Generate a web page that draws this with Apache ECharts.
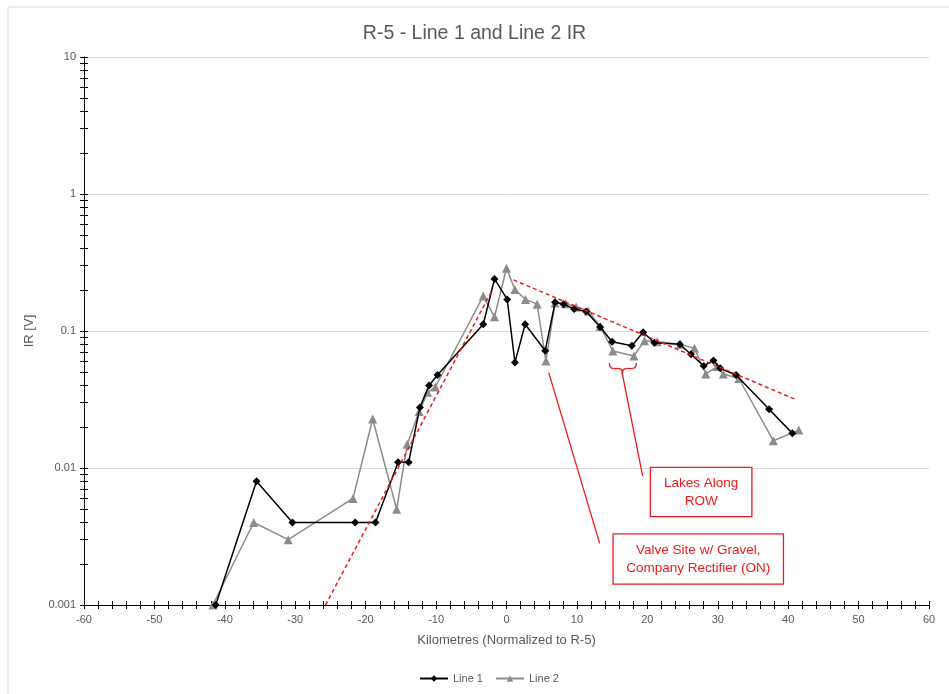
<!DOCTYPE html>
<html>
<head>
<meta charset="utf-8">
<script src="https://cdn.jsdelivr.net/npm/echarts@6/dist/echarts.min.js"></script>
<style>
html,body{margin:0;padding:0;background:#fff;}
#c{width:949px;height:694px;}
</style>
</head>
<body>
<div id="c"></div>
<script>
// ---- data ----
const line1X = [-41.3, -35.5, -30.4, -21.5, -18.6, -15.4, -13.9, -12.3, -11.0, -9.8, -3.3, -1.7, 0.1, 1.2, 2.65, 5.5, 6.9, 8.1, 9.6, 11.3, 13.3, 15.0, 17.8, 19.4, 21.0, 24.6, 26.2, 28.0, 29.4, 30.35, 32.6, 37.3, 40.6];
const line1Y = [0.001, 0.008, 0.004, 0.004, 0.004, 0.011, 0.011, 0.0277, 0.04, 0.0478, 0.112, 0.24, 0.17, 0.059, 0.112, 0.0718, 0.162, 0.157, 0.145, 0.139, 0.107, 0.0836, 0.078, 0.098, 0.082, 0.08, 0.0676, 0.0556, 0.061, 0.0534, 0.0477, 0.0268, 0.0179];
const line2X = [-41.7, -35.9, -31.0, -21.8, -19.0, -15.6, -14.1, -12.4, -11.2, -10.1, -3.3, -1.7, 0.0, 1.2, 2.7, 4.35, 5.6, 6.9, 8.4, 9.9, 11.6, 13.3, 15.1, 18.1, 19.6, 21.4, 24.7, 26.7, 28.3, 29.9, 30.8, 33.0, 37.9, 41.5];
const line2Y = [0.001, 0.004, 0.003, 0.006, 0.0228, 0.005, 0.0149, 0.0258, 0.0357, 0.039, 0.18, 0.127, 0.287, 0.201, 0.17, 0.157, 0.0604, 0.16, 0.158, 0.15, 0.14, 0.108, 0.0715, 0.0657, 0.085, 0.0836, 0.08, 0.0747, 0.0486, 0.055, 0.0486, 0.045, 0.0158, 0.0189];
const trend1X = [-25.7, -2.0];
const trend1Y = [0.001, 0.2];
const trend2X = [1.0, 40.9];
const trend2Y = [0.236, 0.0319];
const xTickLabels = [-60, -50, -40, -30, -20, -10, 0, 10, 20, 30, 40, 50, 60];
const yTickLabels = [0.001, 0.01, 0.1, 1, 10];
const seriesNames = ['Line 1', 'Line 2'];
const titleText = 'R-5 - Line 1 and Line 2 IR';
const xName = 'Kilometres (Normalized to R-5)';
const yName = 'IR [V]';
const note1 = ['Lakes Along', 'ROW'];
const note2 = ['Valve Site w/ Gravel,', 'Company Rectifier (ON)'];

// ---- helpers ----
const zip = (xs, ys) => xs.map((x, i) => [x, ys[i]]);
const yMinor = [];
for (let d = -3; d < 1; d++) for (let m = 1; m <= 9; m++) yMinor.push(+(m * Math.pow(10, d)).toPrecision(3));
yMinor.push(10);
const xMinor = [];
for (let v = xTickLabels[0]; v <= xTickLabels[xTickLabels.length - 1]; v += 2) xMinor.push(v);

const FONT = '"Liberation Sans", Arial, sans-serif';
const GRAY = '#595959';
const RED = '#f01a1a';

const xBase = {
  type: 'value', min: xTickLabels[0], max: xTickLabels[xTickLabels.length - 1], interval: 10,
  position: 'bottom', splitLine: { show: false }
};
const yBase = {
  type: 'log', logBase: 10, min: yTickLabels[0], max: yTickLabels[yTickLabels.length - 1],
  position: 'left', splitLine: { show: false }
};

const option = {
  backgroundColor: '#fff',
  animation: false,
  title: {
    text: titleText, left: 'center', top: 19,
    textStyle: { fontFamily: FONT, fontSize: 19.5, fontWeight: 'normal', color: GRAY }
  },
  legend: {
    data: seriesNames, left: 414, top: 668, itemWidth: 28, itemHeight: 8, itemGap: 12,
    textStyle: { fontFamily: FONT, fontSize: 11, color: GRAY }
  },
  grid: { left: 84, right: 20, top: 57, bottom: 89, containLabel: false },
  xAxis: [
    Object.assign({}, xBase, {
      name: xName, nameLocation: 'middle', nameGap: 29,
      nameTextStyle: { fontFamily: FONT, fontSize: 13, color: GRAY },
      axisLine: { show: true, onZero: false, lineStyle: { color: '#000', width: 1 } },
      axisTick: { show: false },
      axisLabel: { show: true, margin: 9, fontFamily: FONT, fontSize: 11, color: GRAY }
    }),
    Object.assign({}, xBase, {
      axisLine: { show: false, onZero: false },
      axisTick: { show: true, customValues: xMinor, inside: false, length: 4, lineStyle: { color: '#000' } },
      axisLabel: { show: false }
    }),
    Object.assign({}, xBase, {
      axisLine: { show: false, onZero: false },
      axisTick: { show: true, customValues: xMinor, inside: true, length: 4, lineStyle: { color: '#000' } },
      axisLabel: { show: false }
    })
  ],
  yAxis: [
    Object.assign({}, yBase, {
      name: yName, nameLocation: 'middle', nameGap: 48,
      nameTextStyle: { fontFamily: FONT, fontSize: 13, color: GRAY },
      axisLine: { show: true, onZero: false, lineStyle: { color: '#000', width: 1 } },
      axisTick: { show: false },
      splitLine: { show: true, lineStyle: { color: '#d9d9d9', width: 1 } },
      axisLabel: {
        show: true, margin: 8, fontFamily: FONT, fontSize: 11, color: GRAY,
        formatter: v => String(+(+v).toPrecision(3))
      }
    }),
    Object.assign({}, yBase, {
      axisLine: { show: false, onZero: false },
      axisTick: { show: true, customValues: yMinor, inside: false, length: 4, lineStyle: { color: '#000' } },
      axisLabel: { show: false }
    }),
    Object.assign({}, yBase, {
      axisLine: { show: false, onZero: false },
      axisTick: { show: true, customValues: yMinor, inside: true, length: 4, lineStyle: { color: '#000' } },
      axisLabel: { show: false }
    })
  ],
  series: [
    {
      name: seriesNames[0], type: 'line', data: zip(line1X, line1Y), z: 3,
      symbol: 'diamond', symbolSize: 8,
      lineStyle: { color: '#000', width: 1.5 },
      itemStyle: { color: '#000' }
    },
    {
      name: seriesNames[1], type: 'line', data: zip(line2X, line2Y), z: 2,
      symbol: 'triangle', symbolSize: 9,
      lineStyle: { color: '#8c8c8c', width: 1.5 },
      itemStyle: { color: '#8c8c8c' }
    },
    {
      name: 'trend1', type: 'line', data: zip(trend1X, trend1Y), z: 4, silent: true,
      symbol: 'none', lineStyle: { color: RED, width: 1.5, type: [4, 3] }
    },
    {
      name: 'trend2', type: 'line', data: zip(trend2X, trend2Y), z: 4, silent: true,
      symbol: 'none', lineStyle: { color: RED, width: 1.5, type: [4, 3] }
    }
  ]
};

const chart = echarts.init(document.getElementById('c'), null, { renderer: 'canvas' });
chart.setOption(option);

// ---- annotations (placed in data space, converted by the chart's scales) ----
const P = (x, y) => chart.convertToPixel({ xAxisIndex: 0, yAxisIndex: 0 }, [x, y]);
const stroke = { stroke: RED, lineWidth: 1.3, fill: 'none' };
function box(x1, y1, x2, y2, lines) {
  const a = P(x1, y1), b = P(x2, y2);
  const cx = (a[0] + b[0]) / 2, cy = (a[1] + b[1]) / 2;
  return [
    { type: 'rect', z: 100, shape: { x: a[0], y: a[1], width: b[0] - a[0], height: b[1] - a[1] },
      style: { fill: '#fff', stroke: RED, lineWidth: 1.3 } },
    { type: 'text', z: 101, x: cx, y: cy,
      style: { text: lines.join('\n'), fill: RED, fontFamily: FONT, fontSize: 13.5, lineHeight: 18,
        align: 'center', verticalAlign: 'middle', textAlign: 'center', textVerticalAlign: 'middle' } }
  ];
}
function seg(x1, y1, x2, y2) {
  const a = P(x1, y1), b = P(x2, y2);
  return { type: 'line', z: 100, shape: { x1: a[0], y1: a[1], x2: b[0], y2: b[1] }, style: stroke };
}
function bez(x1, y1, cx, cy, x2, y2) {
  return { type: 'bezierCurve', z: 100, shape: { x1: x1, y1: y1, cpx1: cx, cpy1: cy, x2: x2, y2: y2 }, style: stroke };
}
function pline(x1, y1, x2, y2) {
  return { type: 'line', z: 100, shape: { x1: x1, y1: y1, x2: x2, y2: y2 }, style: stroke };
}
const tip = P(16.45, 0.0486);
const L = P(14.61, 0.0583), R = P(18.44, 0.0583);
const mid = L[1] + (tip[1] - L[1]) * 0.5;
const brace = [
  bez(L[0], L[1], L[0], mid, L[0] + 4, mid),
  pline(L[0] + 4, mid, tip[0] - 4, mid),
  bez(tip[0] - 4, mid, tip[0], mid, tip[0], tip[1]),
  bez(tip[0], tip[1], tip[0], mid, tip[0] + 4, mid),
  pline(tip[0] + 4, mid, R[0] - 4, mid),
  bez(R[0] - 4, mid, R[0], mid, R[0], R[1])
];

const graphics = [
  { type: 'rect', z: -10, silent: true, shape: { x: 8, y: 7, width: 1000, height: 1000 },
    style: { fill: 'none', stroke: '#d9d9d9', lineWidth: 1 } },
  seg(6.0, 0.0497, 13.23, 0.00282),
  seg(16.45, 0.0486, 19.33, 0.00875)
].concat(brace)
 .concat(box(20.43, 0.0101, 34.85, 0.00442, note1))
 .concat(box(15.13, 0.0033, 39.33, 0.00142, note2));

chart.setOption({ graphic: graphics });
</script>
</body>
</html>
